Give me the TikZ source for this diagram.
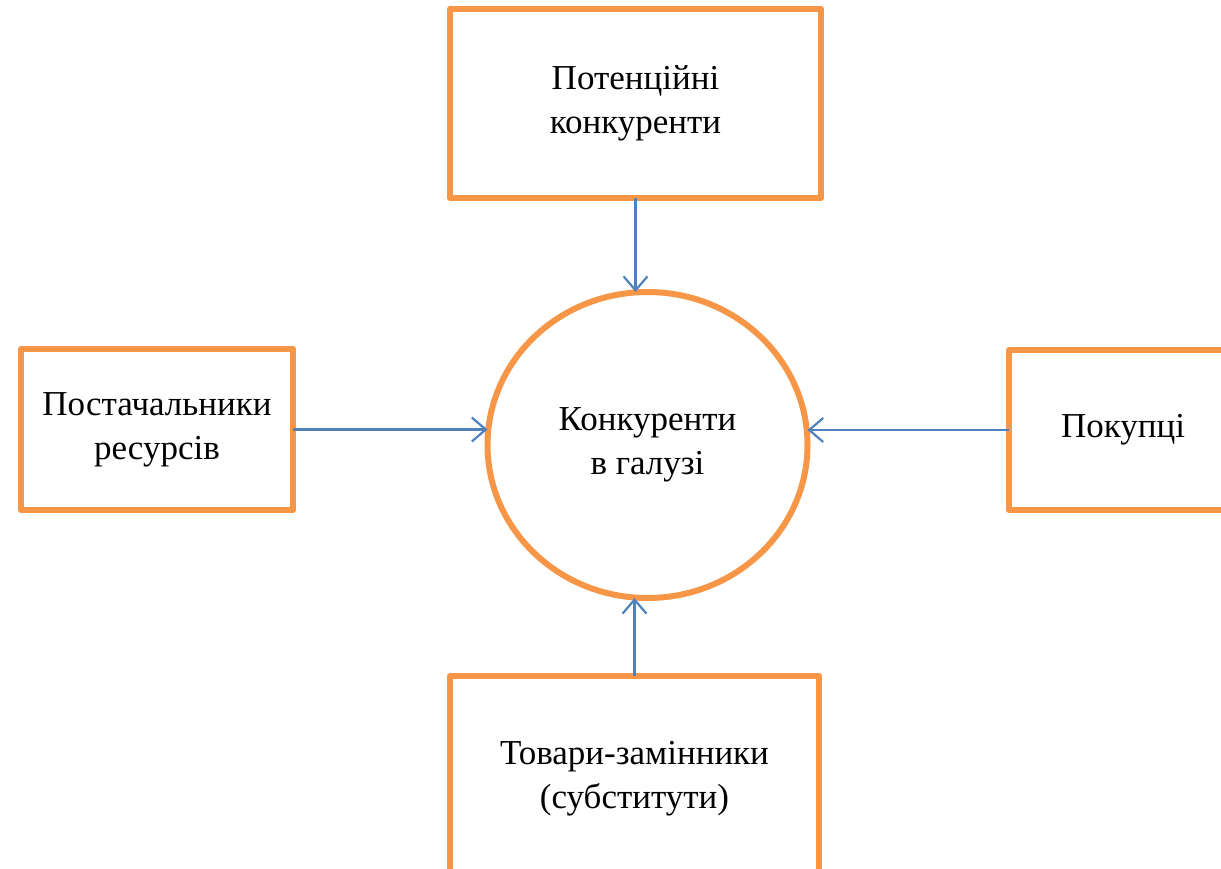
\documentclass[tikz,border=0pt]{standalone}
\usepackage{fontspec}
\setmainfont{Liberation Serif}
\usetikzlibrary{shapes.geometric, arrows.meta, positioning}
\definecolor{boxorange}{RGB}{247,150,70}
\definecolor{arrowblue}{RGB}{79,129,189}

\begin{document}
\begin{tikzpicture}[
      x=1pt,
      y=-1pt,
      force/.style={
          rectangle,
          draw=boxorange,
          line width=6pt,
          line join=round,
          align=center,
          outer sep=0pt,
          font=\fontsize{35}{44}\selectfont
        },
      rival/.style={
          ellipse,
          draw=boxorange,
          line width=6pt,
          align=center,
          inner sep=0pt,
          outer sep=0pt,
          minimum width=320pt,
          minimum height=306pt,
          font=\fontsize{35}{44}\selectfont
        },
      arrow/.style={
          -{Straight Barb[length=14pt,width=24pt]},
          draw=arrowblue,
          line width=2.2pt
        }
    ]
    \useasboundingbox (0,0) rectangle (1221,869);

    % Centre
    \node[rival] (rivals) at (647.5,445) {Конкуренти\\в галузі};

    % Forces around
    \node[force, minimum width=371pt, minimum height=189pt, above=94pt of rivals, xshift=-12pt] (potential) {Потенційні\\конкуренти};
    \node[force, minimum width=272pt, minimum height=161pt, left=194.5pt of rivals, yshift=15.5pt] (suppliers) {Постачальники\\ресурсів};
    \node[force, minimum width=228pt, minimum height=160pt, right=201.5pt of rivals, yshift=15pt] (buyers) {Покупці};
    \node[force, minimum width=369pt, minimum height=205pt, below=78pt of rivals, xshift=-13pt] (substitutes) {Товари-замінники\\(субститути)};

    % Arrows
    \draw[arrow] (potential.south) -- (potential.south |- rivals.north);
    \draw[arrow] (suppliers.east) -- (suppliers.east -| rivals.west);
    \draw[arrow] (buyers.west) -- (buyers.west -| rivals.east);
    \draw[arrow] (substitutes.north) -- (substitutes.north |- rivals.south);
  \end{tikzpicture}
\end{document}
